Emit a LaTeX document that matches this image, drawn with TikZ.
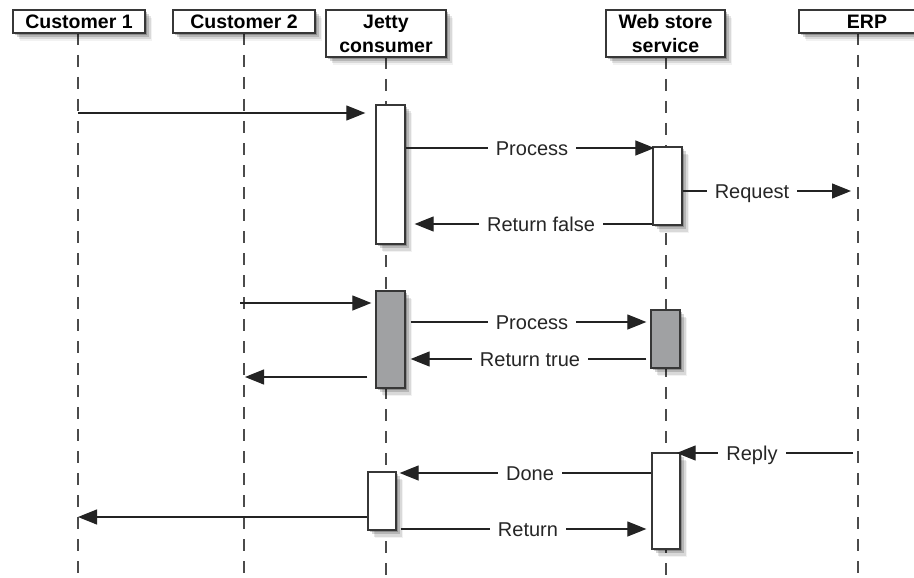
\documentclass[tikz,border=0pt]{standalone}
\usepackage{fontspec}
\setmainfont{Liberation Sans}
\usetikzlibrary{arrows.meta,shadows}
\definecolor{linec}{RGB}{35,35,35}
\definecolor{boxc}{RGB}{55,55,55}
\definecolor{boxgray}{RGB}{160,161,163}
\definecolor{lifec}{RGB}{75,75,75}
\tikzset{
  shadowed/.style={
    drop shadow={shadow xshift=1.5pt,shadow yshift=-2pt,opacity=0.22,fill=black},
    drop shadow={shadow xshift=3.5pt,shadow yshift=-4pt,opacity=0.16,fill=black},
    drop shadow={shadow xshift=5.5pt,shadow yshift=-6.5pt,opacity=0.10,fill=black},
    drop shadow={shadow xshift=7pt,shadow yshift=-8pt,opacity=0.05,fill=black}},
  header/.style={draw=boxc,line width=1.3pt,fill=white,shadowed,align=center,inner sep=0pt,
    font=\bfseries\fontsize{19.5}{24}\selectfont},
  act/.style={draw=boxc,line width=1.3pt,fill=white,shadowed,minimum width=29pt,inner sep=0pt},
  actgray/.style={act,fill=boxgray},
  life/.style={draw=lifec,line width=1.2pt,dash pattern=on 12pt off 10pt},
  msg/.style={draw=linec,line width=1.2pt,-{Triangle[length=19pt,width=15pt]}},
  lab/.style={fill=white,inner xsep=8pt,inner ysep=1pt,text height=14.5pt,text depth=0pt,
    font=\fontsize{20}{24}\selectfont,text=black!85}
}
\begin{document}
\begin{tikzpicture}[x=1pt,y=-1pt]
\path[use as bounding box,clip] (0,0) rectangle (914,578);
\fill[white] (0,0) rectangle (914,578);

% lifeline anchors
\coordinate (L1) at (78,33);
\coordinate (L2) at (244,33);
\coordinate (L3) at (386,57);
\coordinate (L4) at (666,57);
\coordinate (L5) at (858,33);
\coordinate (B1) at (78,578);
\coordinate (B2) at (244,578);
\coordinate (B3) at (386,578);
\coordinate (B4) at (666,578);
\coordinate (B5) at (858,578);

\draw[life] (L1) -- (B1);
\draw[life] (L2) -- (B2);
\draw[life] (L3) -- (B3);
\draw[life] (L4) -- (B4);
\draw[life] (L5) -- (B5);

% headers
\node[header,minimum width=132pt,minimum height=23pt] (H1) at (79,21.5) {Customer 1};
\node[header,minimum width=142pt,minimum height=23pt] (H2) at (244,21.5) {Customer 2};
\node[header,minimum width=120pt,minimum height=47pt] (H3) at (386,33.5) {Jetty\\consumer};
\node[header,minimum width=119pt,minimum height=47pt] (H4) at (665.5,33.5) {Web store\\service};
\node[header,minimum width=136pt,minimum height=23pt] (H5) at (867,21.5) {ERP};

% activation boxes
\node[act,minimum height=139pt] (A1) at (390.5,174.5) {};
\node[act,minimum height=78pt] (W1) at (667.5,186) {};
\node[actgray,minimum height=97pt] (A2) at (390.5,339.5) {};
\node[actgray,minimum height=58pt] (W2) at (665.5,339) {};
\node[act,minimum width=28pt,minimum height=58pt] (A3) at (382,501) {};
\node[act,minimum width=28pt,minimum height=96pt] (W3) at (666,501) {};

% messages
\draw[msg,shorten >=10pt] (L1 |- 0,113) -- (A1.west |- 0,113);
\draw[msg,shorten >=-2pt] (A1.east |- 0,148) -- (W1.west |- 0,148);
\draw[msg,shorten >=7pt] (W1.east |- 0,191) -- (L5 |- 0,191);
\draw[msg,shorten >=9pt] (W1.west |- 0,224) -- (A1.east |- 0,224);

\draw[msg,shorten <=-4pt,shorten >=4pt] (L2 |- 0,303) -- (A2.west |- 0,303);
\draw[msg,shorten <=5pt,shorten >=4pt] (A2.east |- 0,322) -- (W2.west |- 0,322);
\draw[msg,shorten <=4pt,shorten >=5pt] (W2.west |- 0,359) -- (A2.east |- 0,359);
\draw[msg,shorten <=8pt,shorten >=1pt] (A2.west |- 0,377) -- (L2 |- 0,377);

\draw[msg,shorten <=5pt,shorten >=-4pt] (L5 |- 0,453) -- (W3.east |- 0,453);
\draw[msg,shorten >=3pt] (W3.west |- 0,473) -- (A3.east |- 0,473);
\draw[msg] (A3.west |- 0,517) -- (L1 |- 0,517);
\draw[msg,shorten <=4pt,shorten >=5pt] (A3.east |- 0,529) -- (W3.west |- 0,529);

% labels
\node[lab] (t1) at (532,148) {Process};
\node[lab] (t2) at (752,191) {Request};
\node[lab] (t3) at (541,224) {Return false};
\node[lab] (t4) at (532,322) {Process};
\node[lab] (t5) at (530,359) {Return true};
\node[lab] (t6) at (752,453) {Reply};
\node[lab] (t7) at (530,473) {Done};
\node[lab] (t8) at (528,529) {Return};
\end{tikzpicture}
\end{document}
